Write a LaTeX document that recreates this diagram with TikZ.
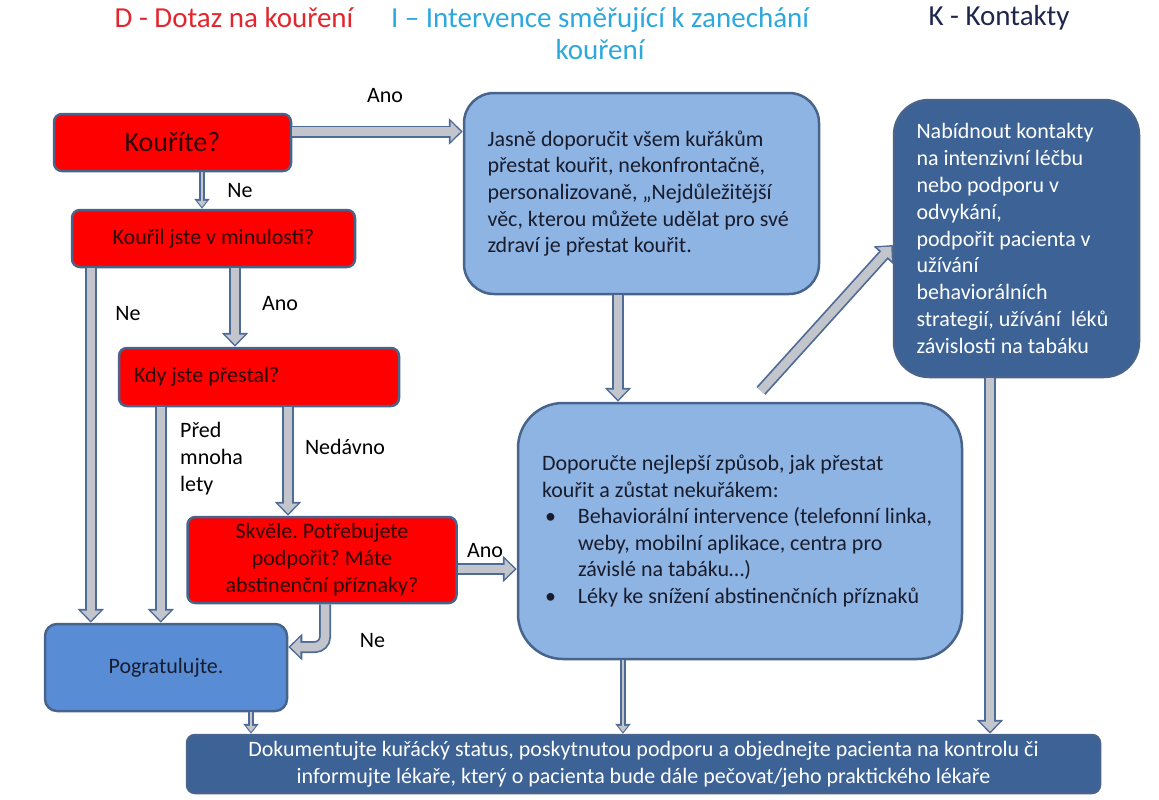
\documentclass[tikz,border=0pt]{standalone}
\usepackage{fontspec}
\setmainfont{Carlito}
\usepackage{xcolor}
\usetikzlibrary{arrows.meta, calc}
\frenchspacing
\definecolor{askred}{RGB}{255,0,0}
\definecolor{asktext}{RGB}{45,5,5}
\definecolor{boxline}{RGB}{72,100,140}
\definecolor{lightfill}{RGB}{142,180,227}
\definecolor{midfill}{RGB}{88,141,214}
\definecolor{darkfill}{RGB}{60,98,150}
\definecolor{darktext}{RGB}{25,28,45}
\definecolor{flowline}{RGB}{78,106,150}
\definecolor{flowgray}{RGB}{194,198,204}
\definecolor{headD}{RGB}{226,38,46}
\definecolor{headI}{RGB}{44,168,220}
\definecolor{headK}{RGB}{30,38,78}

\begin{document}
\begin{tikzpicture}[x=1pt, y=-1pt]
			\tikzstyle{askbox}=[
			draw=boxline,
			line width=2.5pt,
			fill=askred,
			rounded corners=8pt,
			text=asktext,
			inner sep=0pt,
			font=\fontsize{22}{27}\selectfont
			]
			\tikzstyle{infobox}=[
			draw=boxline,
			line width=2.5pt,
			fill=lightfill,
			text=darktext,
			inner sep=0pt,
			align=flush left,
			font=\fontsize{22}{26.6}\selectfont
			]
			\tikzstyle{contactbox}=[
			draw=boxline,
			line width=2.5pt,
			fill=darkfill,
			text=white,
			inner sep=0pt,
			font=\fontsize{22}{26.8}\selectfont
			]
			\tikzstyle{heading}=[font=\fontsize{29}{32}\selectfont]
			\tikzstyle{lbl}=[inner sep=0pt, font=\fontsize{22}{27}\selectfont]
			\tikzstyle{flow}=[
			draw=flowgray,
			line width=8.5pt,
			shorten >=2.2pt,
			-{Triangle[length=10pt,width=19pt]},
			preaction={draw=flowline, line width=12pt, shorten >=0pt, -{Triangle[length=14pt,width=26pt]}}
			]
			\tikzstyle{thinflow}=[
			draw=flowgray,
			line width=2.5pt,
			shorten >=1.8pt,
			-{Triangle[length=6pt,width=9pt]},
			preaction={draw=flowline, line width=5.5pt, shorten >=0pt, -{Triangle[length=10pt,width=15pt]}}
			]
			\useasboundingbox (0,0) rectangle (1159,800);
			% headings
			\node[heading, text=headD] (hdrD) at (234,18) {D - Dotaz na kouření};
			\node[heading, text=headI, align=center] (hdrI) at (600,34) {I -- Intervence směřující k zanechání\\kouření};
			\node[heading, text=headK] (hdrK) at (999,18) {K - Kontakty};
			% D column
			\node[askbox, minimum width=237pt, minimum height=57pt, font=\fontsize{28}{32}\selectfont] (smoke) at (172.5,142.5) {Kouříte?};
			\node[askbox, minimum width=283pt, minimum height=57pt] (past) at (213.5,238.5) {Kouřil jste v minulosti?};
			\node[askbox, minimum width=280pt, minimum height=58pt, text width=250pt, align=flush left] (when) at (259,377) {Kdy jste přestal?};
			\node[askbox, minimum width=269pt, minimum height=86pt, align=center] (great) at (322,560) {Skvěle. Potřebujete\\podpořit? Máte\\abstinenční příznaky?};
			\node[infobox, fill=midfill, rounded corners=12pt, minimum width=242pt, minimum height=87pt, align=center] (pog) at (166,667.5) {Pogratulujte.};
			% I column
			\node[infobox, rounded corners=30pt, minimum width=355pt, minimum height=201pt, text width=308pt] (advise) at (641.5,193.5) {Jasně doporučit všem kuřákům\\přestat kouřit, nekonfrontačně,\\personalizovaně, „Nejdůležitější\\věc, kterou můžete udělat pro své\\zdraví je přestat kouřit.};
			\node[infobox, rounded corners=45pt, minimum width=444pt, minimum height=256pt, text width=396pt] (dop) at (740,531) {Doporučte nejlepší způsob, jak přestat\\kouřit a zůstat nekuřákem:\\
				\makebox[36pt][l]{\hspace{3pt}\textbullet}Behaviorální intervence (telefonní linka,\\
				\hspace*{36pt}weby, mobilní aplikace, centra pro\\
				\hspace*{36pt}závislé na tabáku…)\\
				\makebox[36pt][l]{\hspace{3pt}\textbullet}Léky ke snížení abstinenčních příznaků};
			% K column
			\node[contactbox, rounded corners=35pt, minimum width=245pt, minimum height=277pt, text width=200pt, align=flush left] (contacts) at (1016.5,238.5) {Nabídnout kontakty\\na intenzivní léčbu\\nebo podporu v\\odvykání,\\podpořit pacienta v\\užívání\\behaviorálních\\strategií, užívání~ léků\\závislosti na tabáku};
			\node[contactbox, rounded corners=8pt, minimum width=913pt, minimum height=58pt, align=center] (doc) at (643.5,764) {Dokumentujte kuřácký status, poskytnutou podporu a objednejte pacienta na kontrolu či\\informujte lékaře, který o pacienta bude dále pečovat/jeho praktického lékaře};
			% connectors
			\draw[flow] ([yshift=11pt]smoke.east) -- ([yshift=11pt]smoke.east -| advise.west);
			\draw[thinflow] ([xshift=29.5pt]smoke.south) -- ([xshift=29.5pt]smoke.south |- past.north);
			\draw[flow] ([xshift=47pt]pog.north west |- past.south) -- ([xshift=47pt]pog.north west);
			\draw[flow] ([xshift=21.5pt]past.south) -- ([xshift=21.5pt]past.south |- when.north);
			\draw[flow] ([xshift=117pt]pog.north west |- when.south) -- ([xshift=117pt]pog.north west);
			\draw[flow] ([xshift=29pt]when.south) -- ([xshift=29pt]when.south |- great.north);
			\draw[flow] ([yshift=-9pt]great.east) -- ([yshift=-9pt]great.east -| dop.west);
			\draw[flow, rounded corners=10pt] ([xshift=3pt]great.south) |- ([yshift=20.5pt]pog.east);
			\draw[flow] ([xshift=-23.5pt]advise.south) -- ([xshift=-23.5pt]advise.south |- dop.north);
			\draw[flow] ([xshift=21pt,yshift=11pt]dop.north) -- ([yshift=-6.5pt]contacts.west);
			\draw[flow] ([xshift=-26.5pt]contacts.south) -- ([xshift=-26.5pt]contacts.south |- doc.north);
			\draw[thinflow] ([xshift=-117pt]dop.south) -- ([xshift=-117pt]dop.south |- doc.north);
			\draw[thinflow] ([xshift=85pt]pog.south) -- ([xshift=85pt]pog.south |- doc.north);
			% answers
			\node[lbl] (yes1) at (385,96) {Ano};
			\node[lbl] (no1) at (240,191) {Ne};
			\node[lbl] (no2) at (128,314) {Ne};
			\node[lbl] (yes2) at (280,304) {Ano};
			\node[lbl, anchor=west, align=left] (longago) at (180,459) {Před\\mnoha\\lety};
			\node[lbl] (recent) at (345,447) {Nedávno};
			\node[lbl] (yes3) at (485,551) {Ano};
			\node[lbl] (no3) at (372.5,641) {Ne};
		\end{tikzpicture}
\end{document}
